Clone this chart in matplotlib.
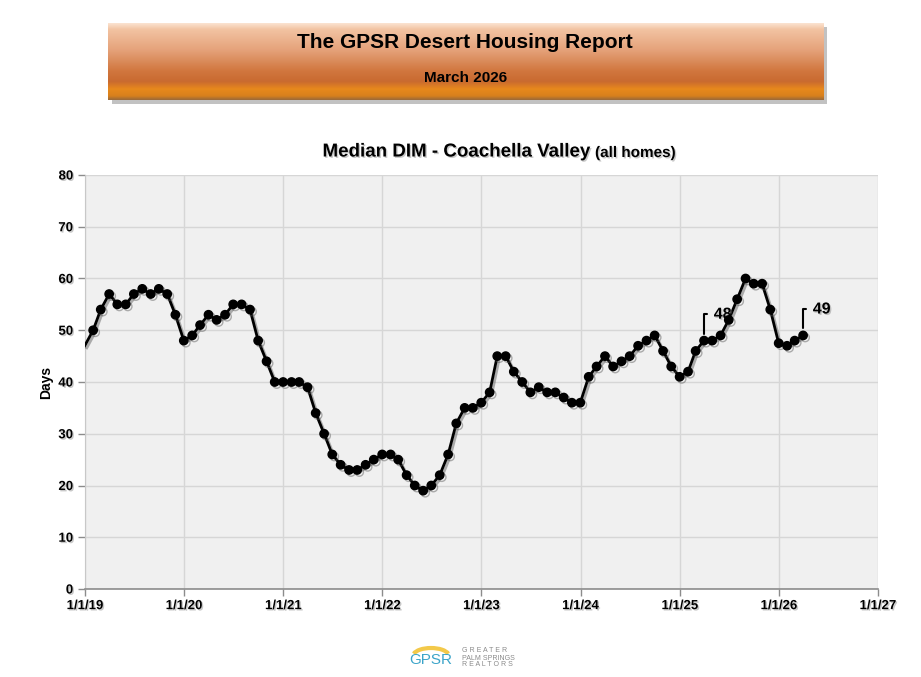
import matplotlib
matplotlib.use("Agg")
import matplotlib.pyplot as plt
import matplotlib.patheffects as pe
from matplotlib.colors import LinearSegmentedColormap
from matplotlib.patches import Rectangle, Arc
import numpy as np
import pandas as pd

plt.rcParams["font.family"] = ["Liberation Sans", "DejaVu Sans"]
plt.rcParams["font.weight"] = "bold"

# monthly median days in market, month-end dates (Dec 2018 .. Mar 2026)
months = pd.date_range("2018-12-31", "2026-03-31", freq="ME")
dim_values = [
    47,
    50, 54, 57, 55, 55, 57, 58, 57, 58, 57, 53, 48,
    49, 51, 53, 52, 53, 55, 55, 54, 48, 44, 40, 40,
    40, 40, 39, 34, 30, 26, 24, 23, 23, 24, 25, 26,
    26, 25, 22, 20, 19, 20, 22, 26, 32, 35, 35, 36,
    38, 45, 45, 42, 40, 38, 39, 38, 38, 37, 36, 36,
    41, 43, 45, 43, 44, 45, 47, 48, 49, 46, 43, 41,
    42, 46, 48, 48, 49, 52, 56, 60, 59, 59, 54, 47.5,
    47, 48, 49,
]
labelled = ["2025-03-31", "2026-03-31"]
x_ticks = pd.date_range("2019-01-01", "2027-01-01", freq="YS")
x_tick_labels = ["1/1/19", "1/1/20", "1/1/21", "1/1/22", "1/1/23",
                 "1/1/24", "1/1/25", "1/1/26", "1/1/27"]
y_ticks = [0, 10, 20, 30, 40, 50, 60, 70, 80]

series = pd.Series(dim_values, index=months)

fig = plt.figure(figsize=(9.21, 6.77), dpi=100)
fig.patch.set_facecolor("white")

# ---- orange banner at the top
bx, by, bw, bh = 108 / 921, 1 - 100 / 677, 715 / 921, 77 / 677
fig.patches.append(Rectangle((bx + 4 / 921, by - 4 / 677), bw, bh,
                             transform=fig.transFigure, facecolor="#9a9a9a",
                             alpha=0.6, edgecolor="none", zorder=0))
banner = fig.add_axes([bx, by, bw, bh], zorder=1)
banner_cmap = LinearSegmentedColormap.from_list(
    "banner",
    [(0.0, "#fbe3d0"), (0.08, "#f2c3a2"), (0.35, "#e5a27a"), (0.62, "#d1773f"),
     (0.76, "#c96a30"), (0.86, "#e7891c"), (0.95, "#d8801c"), (1.0, "#9b6a3a")],
)
banner.imshow(np.linspace(0, 1, 200).reshape(-1, 1), aspect="auto",
              cmap=banner_cmap, extent=[0, 1, 0, 1])
banner.set_xlim(0, 1)
banner.set_ylim(0, 1)
banner.axis("off")
fig.text(465 / 921, 1 - 43 / 677, "The GPSR Desert Housing Report",
         ha="center", va="center", fontsize=15, fontweight="bold", zorder=3)
fig.text(466 / 921, 1 - 78 / 677, "March 2026",
         ha="center", va="center", fontsize=11, fontweight="bold", zorder=3)

# ---- chart
text_shadow = [pe.withSimplePatchShadow(offset=(1, -1), shadow_rgbFace="#777777", alpha=0.4)]

ax = fig.add_axes([85 / 921, 1 - 589 / 677, 793 / 921, 414 / 677])
ax.set_facecolor("#f0f0f0")
ax.grid(True, color="#d6d6d6", linewidth=1)
ax.set_axisbelow(True)

line_fx = [pe.SimpleLineShadow(offset=(1.5, -1.5), shadow_color="#555555", alpha=0.45),
           pe.Normal()]
ax.plot(series.index, series.values, color="black", linewidth=2, path_effects=line_fx, zorder=3)
visible = series[series.index >= pd.Timestamp("2019-01-01")]
ax.plot(visible.index, visible.values, linestyle="none", marker="o", markersize=6,
        color="black", path_effects=line_fx, zorder=4)

for date in labelled:
    d = pd.Timestamp(date)
    val = series[d]
    ax.annotate(f"{val:g}", xy=(d, val), xytext=(7, 19), textcoords="offset points",
                ha="left", va="center", fontsize=11.5, fontweight="bold",
                path_effects=text_shadow,
                arrowprops=dict(arrowstyle="-", color="black", linewidth=1.5,
                                connectionstyle="angle,angleA=0,angleB=90,rad=0",
                                shrinkA=3, shrinkB=5))

ax.set_xlim(pd.Timestamp("2019-01-01"), pd.Timestamp("2027-01-01"))
ax.set_ylim(0, 80)
ax.set_xticks(x_ticks)
ax.set_xticklabels(x_tick_labels)
ax.set_yticks(y_ticks)
ax.tick_params(axis="both", labelsize=9.5, color="#8c8c8c", length=5, width=1)
ax.tick_params(axis="x", pad=3)
for lbl in ax.get_xticklabels() + ax.get_yticklabels():
    lbl.set_fontweight("bold")
    lbl.set_path_effects(text_shadow)

for side in ["top", "right"]:
    ax.spines[side].set_visible(False)
ax.spines["left"].set_color("#c8c8c8")
ax.spines["bottom"].set_color("#8c8c8c")
ax.spines["bottom"].set_linewidth(1.2)

ax.set_ylabel("Days", fontsize=10, fontweight="bold", labelpad=4)

fig.text(590 / 921, 1 - 152 / 677, "Median DIM - Coachella Valley",
         ha="right", va="center", fontsize=13.5, fontweight="bold",
         path_effects=text_shadow)
fig.text(595 / 921, 1 - 153 / 677, "(all homes)",
         ha="left", va="center", fontsize=11, fontweight="bold",
         path_effects=text_shadow)

# ---- small GPSR logo at the bottom
fig.patches.append(Arc((431 / 921, 1 - 656 / 677), 36 / 921, 16 / 677,
                       theta1=10, theta2=170, transform=fig.transFigure,
                       color="#f3c94a", linewidth=3))
fig.text(431 / 921, 1 - 660 / 677, "GPSR", ha="center", va="center",
         fontsize=11, fontweight="normal", color="#3ba4c9")
fig.text(462 / 921, 1 - 658 / 677, "G R E A T E R\nPALM SPRINGS\nR E A L T O R S",
         ha="left", va="center", fontsize=5, fontweight="normal",
         color="#8a8a8a", linespacing=1.0)

fig.savefig("out.png", dpi=100)
